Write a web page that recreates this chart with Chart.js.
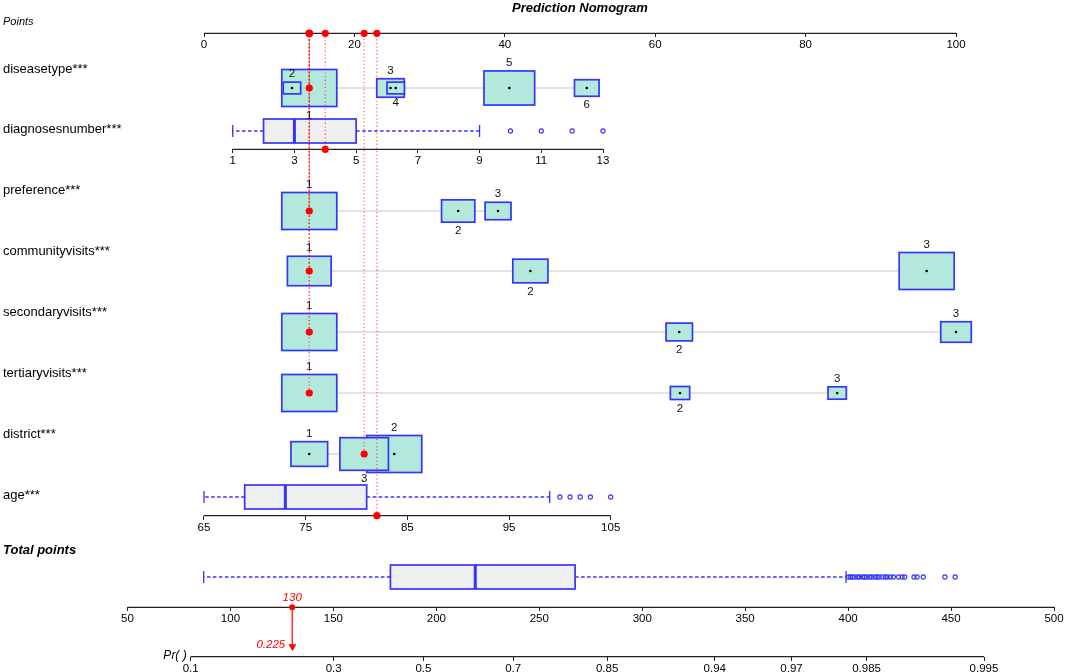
<!DOCTYPE html>
<html>
<head>
<meta charset="utf-8">
<script src="https://cdn.jsdelivr.net/npm/chart.js@4.4.1/dist/chart.umd.min.js"></script>
<style>
html,body{margin:0;padding:0;background:#fff;}
#wrap{width:1065px;height:672px;position:relative;}
</style>
</head>
<body>
<div id="wrap"><canvas id="c"></canvas></div>
<script>
// ================= DATA =================
const chartTitle = 'Prediction Nomogram';
const pointsTicks = [0, 20, 40, 60, 80, 100];
const rowNames = ['diseasetype***', 'diagnosesnumber***', 'preference***', 'communityvisits***',
                  'secondaryvisits***', 'tertiaryvisits***', 'district***', 'age***'];

// categorical predictors: category, points, relative frequency (%)
const diseaseCats = ['1', '2', '3', '4', '5', '6'];
const diseasePoints = [14.0, 11.7, 24.8, 25.5, 40.6, 50.9];
const diseaseFreq = [40, 4, 10, 4, 34, 8];

const prefCats = ['1', '2', '3'];
const prefPoints = [14.0, 33.8, 39.1];
const prefFreq = [63, 23, 14];

const commCats = ['1', '2', '3'];
const commPoints = [14.0, 43.4, 96.1];
const commFreq = [31, 20, 49];

const secCats = ['1', '2', '3'];
const secPoints = [14.0, 63.2, 100.0];
const secFreq = [65, 15, 20];

const terCats = ['1', '2', '3'];
const terPoints = [14.0, 63.3, 84.2];
const terFreq = [81, 10, 9];

const distCats = ['1', '2', '3'];
const distPoints = [14.0, 25.3, 21.3];
const distFreq = [20, 45, 35];

// continuous predictors: axis ticks, box stats [min whisker, Q1, median, Q3, max whisker], outliers
const diagTicks = [1, 3, 5, 7, 9, 11, 13];
const diagStats = [1, 2, 3, 5, 9];
const diagOutliers = [10, 11, 12, 13];

const ageTicks = [65, 75, 85, 95, 105];
const ageStats = [65, 69, 73, 81, 99];
const ageOutliers = [100, 101, 102, 103, 105];

const totalTicks = [50, 100, 150, 200, 250, 300, 350, 400, 450, 500];
const totalStats = [87, 177.7, 218.9, 267.4, 399];
const totalOutliers = [400, 401, 402, 403, 404.5, 405.5, 407, 408, 409, 410.5, 411.5, 413, 414, 415,
                       416.5, 418, 419, 420.5, 422, 424.5, 426.2, 427.5, 432, 433.5, 436.5, 447, 452];

const prTicks = [0.1, 0.3, 0.5, 0.7, 0.85, 0.94, 0.97, 0.985, 0.995];

// observation shown in red
const obsDisease = '1', obsPref = '1', obsComm = '1', obsSec = '1', obsTer = '1', obsDist = '3';
const obsDiag = 4;
const obsAge = 82;
const obsTotal = 130;
const obsPr = 0.225;

// ================= LAYOUT / STYLE =================
const W = 1065, H = 672;
const FONT = '"Liberation Sans", Arial, Helvetica, sans-serif';
const L = {
  titleX: 580, titleY: 8, pointsLabelY: 22, pointsAxisY: 33.3,
  rowY: {diseasetype: 88, preference: 211, communityvisits: 271, secondaryvisits: 332, tertiaryvisits: 393, district: 454},
  diagBoxY: 131, diagAxisY: 149.3, ageBoxY: 497, ageAxisY: 515.7,
  totalLabelY: 550, totalBoxY: 577, totalAxisY: 607.3, arrowY: 646.5, prAxisY: 656.7,
  rowLabelY: [69, 129, 190, 251, 312, 373, 434, 495],
  boxMaxW: 55, boxMaxH: 37, bpH: 24, capH: 12
};
function logit(p) { return Math.log(p / (1 - p)); }
// value -> pixel calibration of each axis: [v0, px0, v1, px1]
const CAL = {
  x: [0, 204, 100, 956],
  xDiag: [1, 232.7, 13, 603],
  xAge: [65, 204, 105, 610.7],
  xTot: [50, 127.5, 500, 1054],
  xPr: [logit(0.1), 190.7, logit(0.995), 984]
};
const BLUE = '#3535f7';
const TEAL = '#b3e9dd';
const GREYBOX = '#efefef';
const AXIS_COLOR = '#222';
const RED = '#ff0000';
const RED_LINE = 'rgba(255,0,0,0.55)';

const catVars = [
  {key: 'diseasetype', cats: diseaseCats, points: diseasePoints, freq: diseaseFreq, obs: obsDisease},
  {key: 'preference', cats: prefCats, points: prefPoints, freq: prefFreq, obs: obsPref},
  {key: 'communityvisits', cats: commCats, points: commPoints, freq: commFreq, obs: obsComm},
  {key: 'secondaryvisits', cats: secCats, points: secPoints, freq: secFreq, obs: obsSec},
  {key: 'tertiaryvisits', cats: terCats, points: terPoints, freq: terFreq, obs: obsTer},
  {key: 'district', cats: distCats, points: distPoints, freq: distFreq, obs: obsDist}
];
const boxplots = [
  {axis: 'xDiag', stats: diagStats, out: diagOutliers, y: L.diagBoxY},
  {axis: 'xAge', stats: ageStats, out: ageOutliers, y: L.ageBoxY},
  {axis: 'xTot', stats: totalStats, out: totalOutliers, y: L.totalBoxY}
];

function calib(c) {
  const [v0, p0, v1, p1] = c;
  const k = (p1 - p0) / (v1 - v0);
  return {min: v0 - p0 / k, max: v0 + (W - p0) / k};
}
function boxSize(v, i) {
  const fmax = Math.max(...v.freq);
  const s = Math.sqrt(v.freq[i] / fmax);
  return {w: L.boxMaxW * s, h: L.boxMaxH * s};
}

// ================= DATASETS =================
const datasets = [];
function seg(axis, pts, style, order) {
  datasets.push(Object.assign({type: 'line', xAxisID: axis, yAxisID: 'y', data: pts, showLine: true,
    pointRadius: 0, pointHoverRadius: 0, fill: false, tension: 0, order: order, clip: false,
    borderWidth: 1, borderColor: AXIS_COLOR}, style));
}
function dots(axis, pts, style, order) {
  datasets.push(Object.assign({type: 'scatter', xAxisID: axis, yAxisID: 'y', data: pts, showLine: false,
    order: order, clip: false, pointBorderWidth: 0}, style));
}

// connectors under the category boxes
catVars.forEach(v => {
  const y = L.rowY[v.key];
  seg('x', [{x: Math.min(...v.points), y}, {x: Math.max(...v.points), y}], {borderColor: '#c6c6c6', borderWidth: 1}, 6);
});
// layer on which the boxes are painted
datasets.push({type: 'scatter', data: [], layer: 'boxes', order: 5, xAxisID: 'x', yAxisID: 'y'});

// axis lines
seg('x', [{x: pointsTicks[0], y: L.pointsAxisY}, {x: pointsTicks[pointsTicks.length - 1], y: L.pointsAxisY}], {borderWidth: 1.2}, 4);
seg('xDiag', [{x: diagTicks[0], y: L.diagAxisY}, {x: diagTicks[diagTicks.length - 1], y: L.diagAxisY}], {borderWidth: 1.2}, 4);
seg('xAge', [{x: ageTicks[0], y: L.ageAxisY}, {x: ageTicks[ageTicks.length - 1], y: L.ageAxisY}], {borderWidth: 1.2}, 4);
seg('xTot', [{x: totalTicks[0], y: L.totalAxisY}, {x: totalTicks[totalTicks.length - 1], y: L.totalAxisY}], {borderWidth: 1.2}, 4);
seg('xPr', [{x: logit(prTicks[0]), y: L.prAxisY}, {x: logit(prTicks[prTicks.length - 1]), y: L.prAxisY}], {borderWidth: 1.2}, 4);

// boxplot whiskers, caps, medians, outliers
boxplots.forEach(b => {
  const [lo, q1, med, q3, hi] = b.stats, y = b.y;
  const dash = {borderColor: BLUE, borderWidth: 1.4, borderDash: [3.5, 2.5]};
  seg(b.axis, [{x: q1, y}, {x: lo, y}], dash, 2);
  seg(b.axis, [{x: q3, y}, {x: hi, y}], dash, 2);
  seg(b.axis, [{x: lo, y: y - L.capH / 2}, {x: lo, y: y + L.capH / 2}], {borderColor: BLUE, borderWidth: 1.3}, 2);
  seg(b.axis, [{x: hi, y: y - L.capH / 2}, {x: hi, y: y + L.capH / 2}], {borderColor: BLUE, borderWidth: 1.3}, 2);
  seg(b.axis, [{x: med, y: y - L.bpH / 2}, {x: med, y: y + L.bpH / 2}], {borderColor: BLUE, borderWidth: 3}, 2);
  dots(b.axis, b.out.map(v => ({x: v, y})), {pointRadius: 2.1, pointStyle: 'circle', pointBorderWidth: 1.1,
    pointBorderColor: BLUE, pointBackgroundColor: 'rgba(0,0,0,0)'}, 2);
});

// black centre dots of category boxes
catVars.forEach(v => {
  const y = L.rowY[v.key];
  dots('x', v.points.map(p => ({x: p, y})), {pointRadius: 1.3, pointBackgroundColor: '#000'}, 2);
});

// red guide lines (drawn from each predictor up to the Points axis)
const redDotted = {borderColor: RED_LINE, borderWidth: 1.3, borderDash: [1.3, 2.3]};
const redRowDots = [];
catVars.forEach(v => {
  const i = v.cats.indexOf(v.obs);
  const p = v.points[i], y = L.rowY[v.key];
  seg('x', [{x: p, y}, {x: p, y: L.pointsAxisY}], redDotted, 1);
  redRowDots.push({axis: 'x', x: p, y});
});
seg('xDiag', [{x: obsDiag, y: L.diagAxisY}, {x: obsDiag, y: L.pointsAxisY}], redDotted, 1);
seg('xAge', [{x: obsAge, y: L.ageAxisY}, {x: obsAge, y: L.pointsAxisY}], redDotted, 1);
seg('xTot', [{x: obsTotal, y: L.totalAxisY}, {x: obsTotal, y: L.arrowY}], {borderColor: RED, borderWidth: 1.2}, 1);

// red points
const redStyle = {pointRadius: 3.6, pointBackgroundColor: RED};
dots('x', redRowDots.map(d => ({x: d.x, y: d.y})), redStyle, 0);
dots('x', redRowDots.map(d => ({x: d.x, y: L.pointsAxisY})), redStyle, 0);
dots('xDiag', [{x: obsDiag, y: L.diagAxisY}, {x: obsDiag, y: L.pointsAxisY}], redStyle, 0);
dots('xAge', [{x: obsAge, y: L.ageAxisY}, {x: obsAge, y: L.pointsAxisY}], redStyle, 0);
dots('xTot', [{x: obsTotal, y: L.totalAxisY}], {pointRadius: 3, pointBackgroundColor: RED}, 0);
dots('xPr', [{x: logit(obsPr), y: L.arrowY}], {pointRadius: 4.6, pointStyle: 'triangle', rotation: 180, pointBackgroundColor: RED}, 0);

// ================= SCALES =================
function xScale(id, ticksArr, labels, axisY) {
  const c = calib(CAL[id]);
  return {
    type: 'linear', axis: 'x', min: c.min, max: c.max, bounds: 'data',
    position: {y: axisY},
    border: {display: false},
    grid: {display: true, drawOnChartArea: false, drawTicks: true, tickLength: 4, color: AXIS_COLOR, lineWidth: 1},
    ticks: {autoSkip: false, maxRotation: 0, minRotation: 0, padding: 1, color: '#000',
      font: {family: FONT, size: 11.5}, callback: (val, i) => labels[i]},
    afterBuildTicks: s => { s.ticks = ticksArr.map(v => ({value: v})); }
  };
}
const scales = {
  y: {type: 'linear', display: false, min: 0, max: H, reverse: true},
  x: xScale('x', pointsTicks, pointsTicks.map(String), L.pointsAxisY),
  xDiag: xScale('xDiag', diagTicks, diagTicks.map(String), L.diagAxisY),
  xAge: xScale('xAge', ageTicks, ageTicks.map(String), L.ageAxisY),
  xTot: xScale('xTot', totalTicks, totalTicks.map(String), L.totalAxisY),
  xPr: xScale('xPr', prTicks.map(logit), prTicks.map(String), L.prAxisY)
};

// ================= PLUGINS =================
const boxPlugin = {
  id: 'nomoBoxes',
  afterDatasetDraw(chart, args) {
    if (chart.data.datasets[args.index].layer !== 'boxes') return;
    const ctx = chart.ctx, xs = chart.scales.x, ys = chart.scales.y;
    ctx.save();
    ctx.lineWidth = 1.7;
    ctx.strokeStyle = BLUE;
    catVars.forEach(v => {
      const cy = ys.getPixelForValue(L.rowY[v.key]);
      v.points.forEach((p, i) => {
        const {w, h} = boxSize(v, i);
        const cx = xs.getPixelForValue(p);
        ctx.fillStyle = TEAL;
        ctx.fillRect(cx - w / 2, cy - h / 2, w, h);
        ctx.strokeRect(cx - w / 2, cy - h / 2, w, h);
      });
    });
    boxplots.forEach(b => {
      const sc = chart.scales[b.axis];
      const x1 = sc.getPixelForValue(b.stats[1]), x3 = sc.getPixelForValue(b.stats[3]);
      const cy = ys.getPixelForValue(b.y);
      ctx.fillStyle = GREYBOX;
      ctx.fillRect(x1, cy - L.bpH / 2, x3 - x1, L.bpH);
      ctx.strokeRect(x1, cy - L.bpH / 2, x3 - x1, L.bpH);
    });
    ctx.restore();
  }
};

const textPlugin = {
  id: 'nomoText',
  afterDraw(chart) {
    const ctx = chart.ctx, xs = chart.scales.x, ys = chart.scales.y;
    ctx.save();
    ctx.textBaseline = 'middle';
    ctx.fillStyle = '#000';
    ctx.textAlign = 'center';
    ctx.font = 'bold italic 13px ' + FONT;
    ctx.fillText(chartTitle, L.titleX, L.titleY);
    ctx.textAlign = 'left';
    ctx.font = 'italic 11px ' + FONT;
    ctx.fillText('Points', 3, L.pointsLabelY);
    ctx.font = '13px ' + FONT;
    rowNames.forEach((t, i) => ctx.fillText(t, 3, L.rowLabelY[i]));
    ctx.font = 'bold italic 13px ' + FONT;
    ctx.fillText('Total points', 3, L.totalLabelY);

    // category labels, alternating above / below in order of position
    ctx.font = '11.5px ' + FONT;
    ctx.fillStyle = '#111';
    ctx.textAlign = 'center';
    catVars.forEach(v => {
      const cy = ys.getPixelForValue(L.rowY[v.key]);
      const order = v.points.map((p, i) => i).sort((a, b) => v.points[a] - v.points[b]);
      order.forEach((i, k) => {
        const {h} = boxSize(v, i);
        const cx = xs.getPixelForValue(v.points[i]);
        const ty = (k % 2 === 0) ? cy - h / 2 - 8 : cy + h / 2 + 9;
        ctx.fillText(v.cats[i], cx, ty);
      });
    });

    // total points / probability annotation
    const xt = chart.scales.xTot.getPixelForValue(obsTotal);
    ctx.fillStyle = RED;
    ctx.font = 'italic 11.5px ' + FONT;
    ctx.fillText(String(obsTotal), xt, ys.getPixelForValue(L.totalAxisY) - 10);
    ctx.textAlign = 'right';
    ctx.fillText(String(obsPr), xt - 7, ys.getPixelForValue(L.arrowY) - 2);
    ctx.fillStyle = '#000';
    ctx.font = 'italic 12px ' + FONT;
    ctx.fillText('Pr( )', chart.scales.xPr.getPixelForValue(logit(prTicks[0])) - 4, ys.getPixelForValue(L.prAxisY) - 1);
    ctx.restore();
  }
};

new Chart(document.getElementById('c'), {
  type: 'scatter',
  data: {datasets},
  options: {
    responsive: true,
    maintainAspectRatio: false,
    animation: false,
    events: [],
    layout: {padding: 0, autoPadding: false},
    plugins: {legend: {display: false}, tooltip: {enabled: false}, title: {display: false}},
    scales
  },
  plugins: [boxPlugin, textPlugin]
});
</script>
</body>
</html>
